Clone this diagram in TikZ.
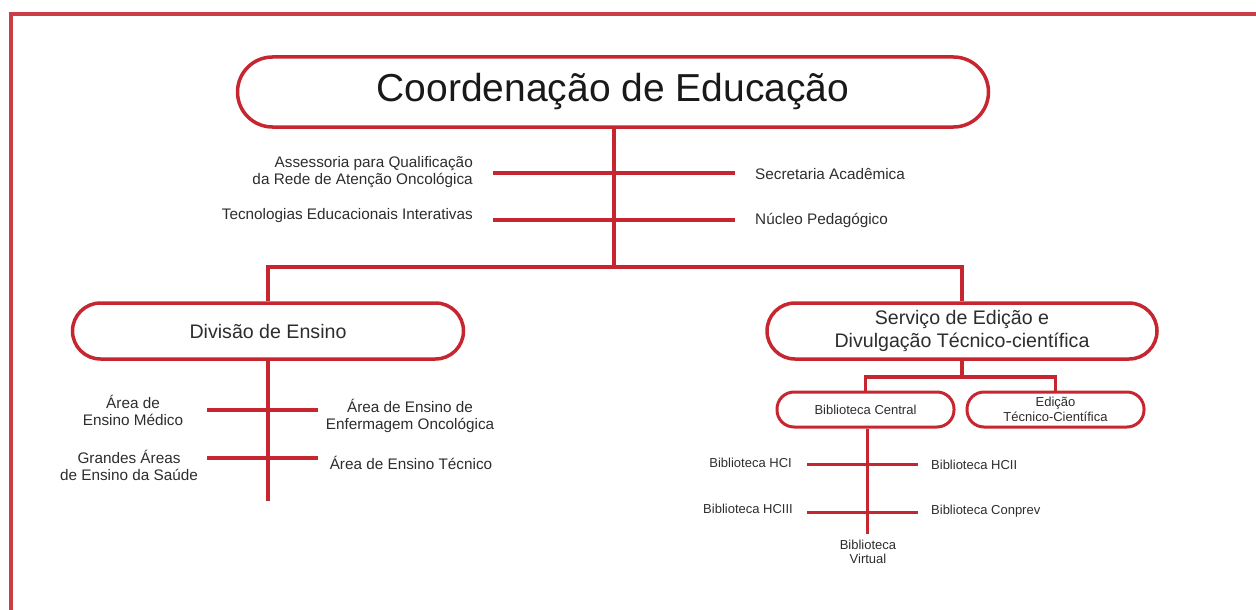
\documentclass[tikz,border=0pt]{standalone}
\usepackage{fontspec}
\setmainfont{Liberation Sans}
\definecolor{orgred}{RGB}{198,38,48}
\definecolor{txtgray}{RGB}{45,45,45}
\begin{document}
\begin{tikzpicture}[x=1pt,y=-1pt,
  oval/.style={draw=orgred, line width=3.5pt, fill=white, inner sep=0pt, align=center, text=txtgray},
  conn/.style={draw=orgred, line width=3.5pt},
  thinconn/.style={draw=orgred, line width=3pt},
  lbl/.style={inner sep=0pt, text=txtgray, font=\fontsize{15.3}{17}\selectfont},
  smlbl/.style={inner sep=0pt, text=txtgray, font=\fontsize{13}{13.5}\selectfont}
]
\useasboundingbox (0,0) rectangle (1256,610);
% frame
\draw[draw=orgred!90, line width=3.5pt] (11,612) -- (11,14) -- (1258,14);

% main oval
\node[oval, minimum width=751pt, minimum height=70pt, rounded corners=35pt,
      font=\fontsize{39}{40}\selectfont, text=black!90] (coord) at (613,92) {Coordenação de Educação};

% first-level branches
\coordinate (hub) at (614,267);
\coordinate (r1l) at (493,173);
\coordinate (r1r) at (735,173);
\coordinate (r2l) at (493,220);
\coordinate (r2r) at (735,220);
\draw[conn] (coord.south -| hub) -- (hub);
\draw[conn] (r1l) -- (r1r);
\draw[conn] (r2l) -- (r2r);

\node[lbl, anchor=east, align=right] (asq) at (473,172) {Assessoria para Qualificação\\da Rede de Atenção Oncológica};
\node[lbl, anchor=east, align=right] (tei) at (473,216) {Tecnologias Educacionais Interativas};
\node[lbl, anchor=west, align=left] (sec) at (755,174) {Secretaria Acadêmica};
\node[lbl, anchor=west, align=left] (nuc) at (755,220) {Núcleo Pedagógico};

% second level ovals
\node[oval, minimum width=391pt, minimum height=56pt, rounded corners=28pt,
      font=\fontsize{19.6}{22}\selectfont] (div) at (268,331) {Divisão de Ensino};
\node[oval, minimum width=390pt, minimum height=56pt, rounded corners=28pt,
      font=\fontsize{19.6}{23}\selectfont] (serv) at (962,331) {Serviço de Edição e\\Divulgação Técnico-científica};

\draw[conn] (div.north) |- (hub) -| (serv.north);

% Divisão branches
\coordinate (dend) at (268,501);
\coordinate (d1l) at (207,410);
\coordinate (d1r) at (318,410);
\coordinate (d2l) at (207,458);
\coordinate (d2r) at (318,458);
\draw[conn] (div.south) -- (dend);
\draw[conn] (d1l) -- (d1r);
\draw[conn] (d2l) -- (d2r);

\node[lbl, align=center] (aem) at (133,410) {Área de\\Ensino Médico};
\node[lbl, align=center] (gae) at (129,465) {Grandes Áreas\\de Ensino da Saúde};
\node[lbl, align=center] (aee) at (410,416) {Área de Ensino de\\Enfermagem Oncológica};
\node[lbl, align=center] (aet) at (411,463) {Área de Ensino Técnico};

% Serviço sub-ovals
\node[oval, minimum width=177pt, minimum height=35pt, rounded corners=17pt,
      font=\fontsize{13}{15}\selectfont, line width=3pt] (bib) at (865.5,409.5) {Biblioteca Central};
\node[oval, minimum width=177pt, minimum height=35pt, rounded corners=17pt,
      font=\fontsize{13}{15}\selectfont, line width=3pt] (edi) at (1055.5,409.5) {Edição\\Técnico-Científica};
\coordinate (shub) at (962,377);
\draw[conn] (serv.south) -- (shub);
\draw[conn] (bib.north) |- (shub) -| (edi.north);

% Biblioteca branches
\coordinate (bend) at (867,534);
\coordinate (b1l) at (807,464);
\coordinate (b1r) at (918,464);
\coordinate (b2l) at (807,512);
\coordinate (b2r) at (918,512);
\draw[thinconn] (bib.south -| bend) -- (bend);
\draw[thinconn] (b1l) -- (b1r);
\draw[thinconn] (b2l) -- (b2r);

\node[smlbl, anchor=east] (hc1) at (792,463) {Biblioteca HCI};
\node[smlbl, anchor=west] (hc2) at (931,465) {Biblioteca HCII};
\node[smlbl, anchor=east] (hc3) at (793,509) {Biblioteca HCIII};
\node[smlbl, anchor=west] (cpv) at (931,511) {Biblioteca Conprev};
\node[smlbl, align=center] (vir) at (868,552) {Biblioteca\\Virtual};
\end{tikzpicture}
\end{document}
